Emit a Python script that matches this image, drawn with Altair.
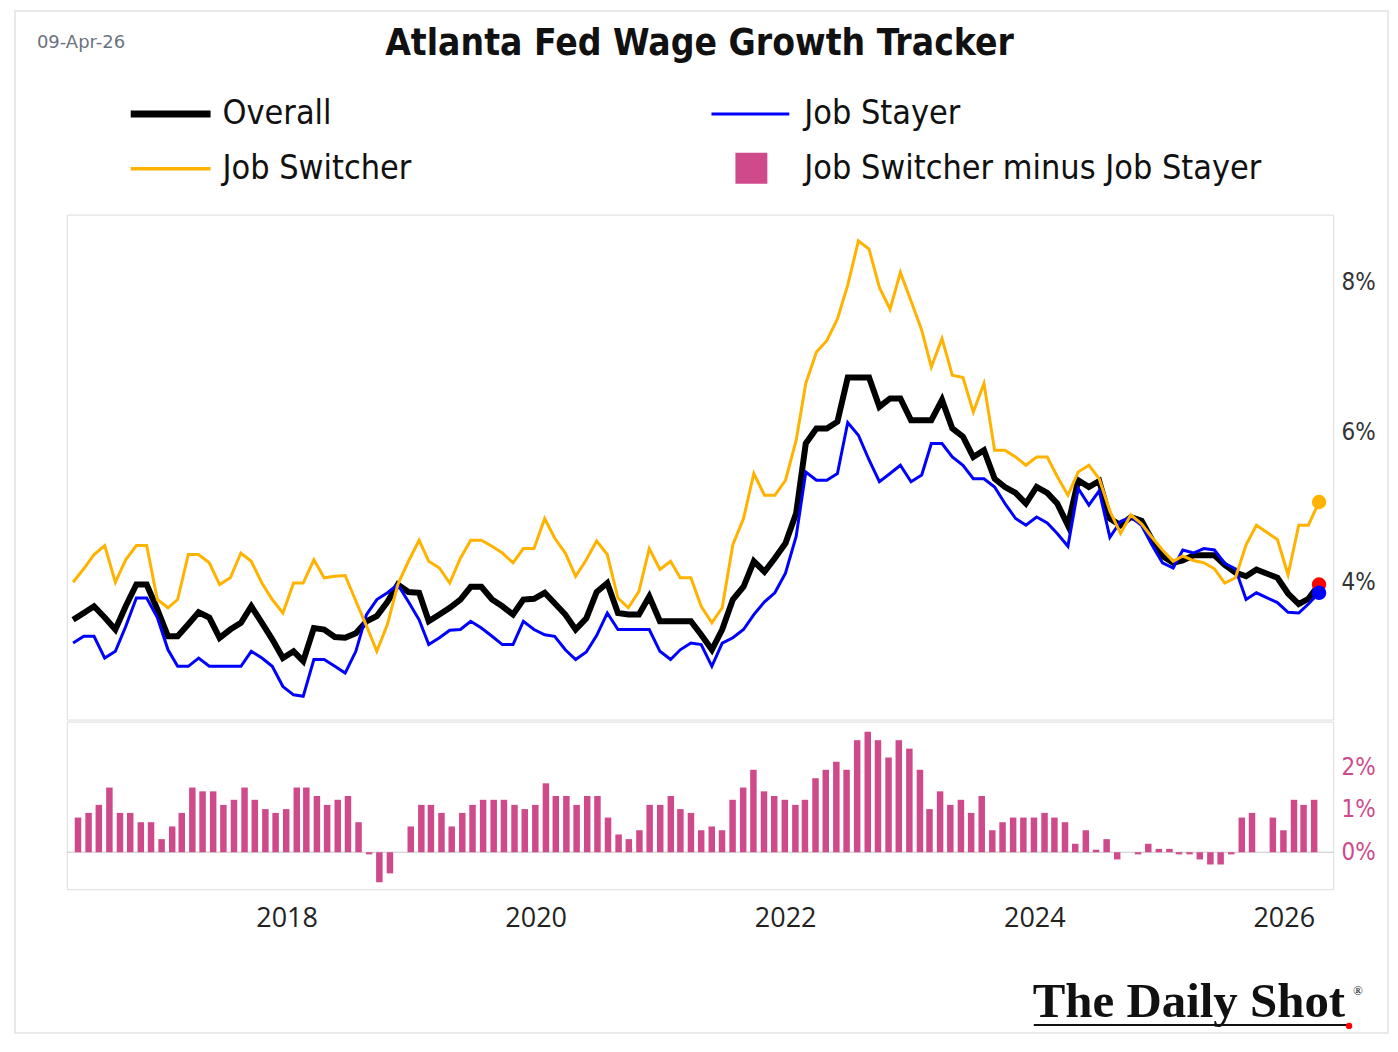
import altair as alt
import pandas as pd

# ---------------- data ----------------
FIRST_MONTH = "2016-04-01"   # monthly data, Apr-2016 .. Mar-2026 (month-end dates)

overall = [
    3.50, 3.59, 3.68, 3.53, 3.37, 3.68, 3.97, 3.97, 3.64, 3.28,
    3.28, 3.44, 3.60, 3.53, 3.26, 3.37, 3.46, 3.68, 3.46, 3.24,
    2.99, 3.08, 2.95, 3.39, 3.37, 3.27, 3.26, 3.32, 3.48, 3.55,
    3.74, 3.97, 3.87, 3.86, 3.48, 3.57, 3.66, 3.77, 3.94, 3.94,
    3.77, 3.68, 3.57, 3.77, 3.78, 3.86, 3.72, 3.57, 3.37, 3.52,
    3.87, 3.99, 3.59, 3.57, 3.57, 3.81, 3.48, 3.48, 3.48, 3.48,
    3.30, 3.10, 3.37, 3.77, 3.94, 4.28, 4.14, 4.32, 4.52, 4.92,
    5.85, 6.05, 6.05, 6.14, 6.73, 6.73, 6.73, 6.34, 6.45, 6.45,
    6.16, 6.16, 6.16, 6.43, 6.05, 5.94, 5.67, 5.76, 5.38, 5.27,
    5.19, 5.05, 5.27, 5.19, 5.05, 4.76, 5.36, 5.27, 5.35, 4.85,
    4.76, 4.87, 4.82, 4.57, 4.35, 4.26, 4.29, 4.36, 4.36, 4.36,
    4.23, 4.13, 4.08, 4.17, None, 4.06, 3.85, 3.71, 3.78, 3.97,
]

job_stayer = [
    3.19, 3.28, 3.28, 2.99, 3.08, 3.41, 3.79, 3.79, 3.53, 3.10,
    2.88, 2.88, 2.99, 2.88, 2.88, 2.88, 2.88, 3.08, 2.99, 2.88,
    2.61, 2.50, 2.48, 2.97, 2.97, 2.88, 2.79, 3.08, 3.57, 3.77,
    3.86, 3.97, 3.74, 3.50, 3.17, 3.26, 3.36, 3.37, 3.48, 3.39,
    3.28, 3.17, 3.17, 3.48, 3.37, 3.30, 3.28, 3.10, 2.97, 3.07,
    3.29, 3.59, 3.37, 3.37, 3.37, 3.37, 3.08, 2.97, 3.10, 3.19,
    3.17, 2.88, 3.19, 3.26, 3.37, 3.57, 3.74, 3.86, 4.12, 4.61,
    5.47, 5.36, 5.36, 5.45, 6.13, 5.96, 5.63, 5.34, 5.45, 5.56,
    5.34, 5.43, 5.85, 5.85, 5.67, 5.56, 5.38, 5.38, 5.27, 5.05,
    4.85, 4.76, 4.87, 4.79, 4.65, 4.48, 5.25, 5.03, 5.22, 4.60,
    4.81, 4.87, 4.76, 4.50, 4.26, 4.19, 4.43, 4.39, 4.45, 4.43,
    4.25, 4.18, 3.77, 3.86, None, 3.73, 3.60, 3.59, 3.71, 3.86,
]

job_switcher = [
    4.00, 4.18, 4.37, 4.49, 4.00, 4.30, 4.49, 4.49, 3.77, 3.66,
    3.77, 4.37, 4.37, 4.26, 3.97, 4.06, 4.39, 4.28, 3.99, 3.77,
    3.59, 3.99, 3.99, 4.30, 4.06, 4.08, 4.09, 3.75, 3.42, 3.08,
    3.44, 3.97, 4.28, 4.56, 4.28, 4.19, 3.99, 4.32, 4.56, 4.56,
    4.48, 4.39, 4.26, 4.45, 4.45, 4.85, 4.59, 4.39, 4.08, 4.30,
    4.55, 4.37, 3.79, 3.66, 3.88, 4.45, 4.17, 4.28, 4.06, 4.06,
    3.68, 3.46, 3.66, 4.50, 4.85, 5.45, 5.16, 5.16, 5.36, 5.89,
    6.65, 7.07, 7.22, 7.51, 7.96, 8.55, 8.44, 7.93, 7.64, 8.13,
    7.75, 7.36, 6.87, 7.25, 6.76, 6.73, 6.27, 6.65, 5.76, 5.76,
    5.67, 5.56, 5.67, 5.67, 5.41, 5.16, 5.47, 5.56, 5.38, 4.95,
    4.65, 4.90, 4.78, 4.60, 4.43, 4.28, 4.35, 4.29, 4.26, 4.18,
    3.99, 4.06, 4.50, 4.76, None, 4.57, 4.10, 4.76, 4.76, 5.07,
]

switcher_minus_stayer = [
    0.82, 0.93, 1.12, 1.53, 0.93, 0.93, 0.71, 0.71, 0.31, 0.61,
    0.93, 1.53, 1.44, 1.44, 1.12, 1.24, 1.53, 1.24, 1.02, 0.93,
    1.02, 1.53, 1.53, 1.33, 1.12, 1.24, 1.33, 0.71, -0.05, -0.71,
    -0.50, 0.00, 0.61, 1.12, 1.12, 0.93, 0.61, 0.93, 1.12, 1.24,
    1.24, 1.24, 1.12, 1.02, 1.12, 1.63, 1.33, 1.33, 1.12, 1.33,
    1.33, 0.82, 0.42, 0.31, 0.52, 1.12, 1.12, 1.33, 1.02, 0.93,
    0.52, 0.61, 0.52, 1.24, 1.53, 1.95, 1.44, 1.33, 1.24, 1.12,
    1.24, 1.75, 1.95, 2.14, 1.95, 2.65, 2.85, 2.65, 2.24, 2.65,
    2.45, 1.95, 1.02, 1.44, 1.12, 1.24, 0.93, 1.33, 0.52, 0.71,
    0.82, 0.82, 0.82, 0.93, 0.82, 0.71, 0.20, 0.52, 0.06, 0.31,
    -0.17, 0.00, -0.05, 0.20, 0.08, 0.08, -0.05, -0.05, -0.17, -0.29,
    -0.29, -0.05, 0.82, 0.93, None, 0.82, 0.52, 1.24, 1.12, 1.24,
]

series_names = ["Overall", "Job Stayer", "Job Switcher", "Job Switcher minus Job Stayer"]
x_tick_years = [2018, 2020, 2022, 2024, 2026]
upper_ticks = [4, 6, 8]
lower_ticks = [0, 1, 2]
chart_title = "Atlanta Fed Wage Growth Tracker"
date_stamp = "09-Apr-26"
source_name = "The Daily Shot"

# ---------------- styling ----------------
BLACK = "#000000"
BLUE = "#0000FF"
YELLOW = "#FFB300"
PINK = "#CF4A8B"
RED = "#FF0000"
GRID = "#D9D9D9"
COND = "Liberation Sans Narrow, DejaVu Sans Condensed, Roboto Condensed, Roboto, sans-serif"
SANS = "Open Sans, Roboto, DejaVu Sans, sans-serif"

W = 1269
H_TOP = 506
H_BOT = 168

dates = (pd.date_range(FIRST_MONTH, periods=len(overall), freq="MS")
         + pd.offsets.MonthEnd(0)).strftime("%Y-%m-%d")
df = pd.DataFrame({
    "date": dates,
    "overall": overall,
    "stayer": job_stayer,
    "switcher": job_switcher,
    "spread": switcher_minus_stayer,
})
last = df.iloc[[-1]]

x_scale = alt.Scale(domain=[alt.DateTime(year=2016, month=4, date=12),
                            alt.DateTime(year=2026, month=5, date=11)])
x_none = alt.X("date:T", scale=x_scale, axis=None)

y_top_scale = alt.Scale(domain=[2.17, 8.90], nice=False, zero=False)
y_top_axis = alt.Axis(orient="right", values=upper_ticks, labelExpr="datum.value + '%'",
                      ticks=False, domain=False, grid=False, title=None,
                      labelFontSize=24, labelColor="#333333", labelFont=COND, labelPadding=8)


def yt(field):
    return alt.Y(f"{field}:Q", scale=y_top_scale, axis=y_top_axis)


base = alt.Chart(df)
line_overall = base.mark_line(color=BLACK, strokeWidth=6, invalid="filter").encode(x=x_none, y=yt("overall"))
line_stayer = base.mark_line(color=BLUE, strokeWidth=3, invalid="filter").encode(x=x_none, y=yt("stayer"))
line_switcher = base.mark_line(color=YELLOW, strokeWidth=3, invalid="filter").encode(x=x_none, y=yt("switcher"))

lb = alt.Chart(last)
dot_switcher = lb.mark_circle(color=YELLOW, opacity=1, size=210).encode(x=x_none, y=yt("switcher"))
dot_overall = lb.mark_circle(color=RED, opacity=1, size=210).encode(x=x_none, y=yt("overall"))
dot_stayer = lb.mark_circle(color=BLUE, opacity=1, size=210).encode(x=x_none, y=yt("stayer"))

# ---- decorations (title, date stamp, legend, outer frame) ----
one = alt.Chart(pd.DataFrame({"k": [0]}))

frame = one.mark_rect(fill=None, stroke="#E2E2E2", strokeWidth=1.5).encode(
    x=alt.value(-52), x2=alt.value(1324), y=alt.value(-204), y2=alt.value(820))

title_txt = one.mark_text(text=chart_title, font=COND, fontSize=37, fontWeight=600,
                          color="#111111", align="center", baseline="middle").encode(
    x=alt.value(634), y=alt.value(-171))
date_txt = one.mark_text(text=date_stamp, font="DejaVu Sans, sans-serif", fontSize=18, color="#6B7280",
                         align="left", baseline="middle").encode(x=alt.value(-30), y=alt.value(-172))

ROW1, ROW2 = -101, -46
leg_overall = one.mark_rule(color=BLACK, strokeWidth=7).encode(
    x=alt.value(64), x2=alt.value(144), y=alt.value(ROW1))
leg_stayer = one.mark_rule(color=BLUE, strokeWidth=3).encode(
    x=alt.value(646), x2=alt.value(724), y=alt.value(ROW1))
leg_switcher = one.mark_rule(color=YELLOW, strokeWidth=3.5).encode(
    x=alt.value(64), x2=alt.value(144), y=alt.value(ROW2))
leg_spread = one.mark_rect(color=PINK).encode(
    x=alt.value(670), x2=alt.value(702), y=alt.value(ROW2 - 16), y2=alt.value(ROW2 + 15))


def leg_label(txt, x, y):
    return one.mark_text(text=txt, font=COND, fontSize=34, color="#111111",
                         align="left", baseline="middle").encode(x=alt.value(x), y=alt.value(y))


legend_layers = [
    leg_overall, leg_stayer, leg_switcher, leg_spread,
    leg_label(series_names[0], 156, ROW1),
    leg_label(series_names[1], 739, ROW1),
    leg_label(series_names[2], 156, ROW2),
    leg_label(series_names[3], 739, ROW2),
]

upper = alt.layer(
    frame, title_txt, date_txt, *legend_layers,
    line_overall, line_stayer, line_switcher,
    dot_switcher, dot_overall, dot_stayer,
).properties(width=W, height=H_TOP)

# ---------------- lower panel: spread bars ----------------
y_bot_scale = alt.Scale(domain=[-0.874, 3.09], nice=False, zero=False)
y_bot_axis = alt.Axis(orient="right", values=lower_ticks, labelExpr="datum.value + '%'",
                      ticks=False, domain=False, grid=False, title=None,
                      labelFontSize=24, labelColor=PINK, labelFont=COND, labelPadding=8)
x_axis = alt.Axis(values=[alt.DateTime(year=y, month=1, date=1) for y in x_tick_years],
                  format="%Y", ticks=False, domain=False, grid=False, title=None,
                  labelFontSize=27, labelColor="#222222", labelFont=SANS, labelPadding=16)

zero_rule = alt.Chart(pd.DataFrame({"z": [0]})).mark_rule(color="#C8C8C8", strokeWidth=1).encode(
    y=alt.Y("z:Q", scale=y_bot_scale, axis=y_bot_axis))
bars = alt.Chart(df).mark_bar(color=PINK, size=6.5, invalid="filter").encode(
    x=alt.X("date:T", scale=x_scale, axis=x_axis),
    y=alt.Y("spread:Q", scale=y_bot_scale, axis=y_bot_axis),
)

logo = one.mark_text(text=source_name, font="Liberation Serif, DejaVu Serif, serif", fontSize=49,
                     fontWeight="bold", color="#111111", align="left", baseline="alphabetic").encode(
    x=alt.value(968), y=alt.value(296))
logo_reg = one.mark_text(text="®", font="Liberation Serif, DejaVu Serif, serif", fontSize=13,
                         color="#111111", align="left", baseline="middle").encode(
    x=alt.value(1289), y=alt.value(270))
logo_line = one.mark_rule(color="#111111", strokeWidth=2).encode(
    x=alt.value(969), x2=alt.value(1284), y=alt.value(304))
logo_dot = one.mark_circle(color=RED, opacity=1, size=40).encode(x=alt.value(1285), y=alt.value(305))

lower = alt.layer(zero_rule, bars, logo, logo_reg, logo_line, logo_dot).properties(width=W, height=H_BOT)

chart = alt.vconcat(upper, lower, spacing=2, bounds="flush").resolve_scale(y="independent").properties(
    padding={"left": 5, "top": 0, "right": 0, "bottom": 0}
).configure_view(stroke=GRID, strokeWidth=2).configure(background="white")

chart.save("out.html", embed_options={"renderer": "svg", "actions": False})
